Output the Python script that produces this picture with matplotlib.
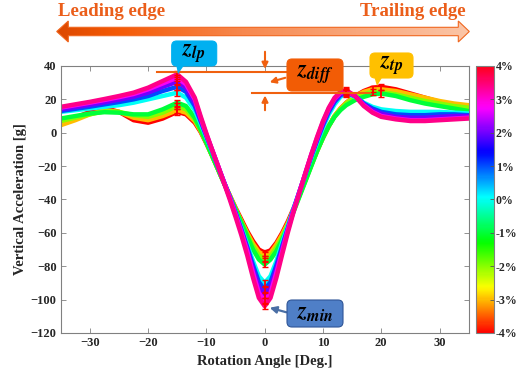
import numpy as np
import matplotlib
matplotlib.use('Agg')
import matplotlib.pyplot as plt
import matplotlib.cm as cm
from matplotlib.patches import Polygon, FancyBboxPatch
from matplotlib.colors import LinearSegmentedColormap, Normalize

plt.rcParams['font.family'] = 'Liberation Serif'
plt.rcParams['font.weight'] = 'bold'
plt.rcParams['mathtext.fontset'] = 'stix'

# rotation angle samples [deg]
angle = [-35, -32.5, -30, -27.5, -25, -22.5, -20, -17.5,
         -15, -13.5, -12, -11, -10, -9, -8, -7, -6, -5, -4, -3, -2, -1, 0,
         1, 2, 3, 4, 5, 6, 7, 8, 9, 10, 11, 12, 13, 14,
         15.5, 17, 18.5, 20,
         22.5, 25, 27.5, 30, 32.5, 35]

# strain level of each curve [%]
levels = [-4, -3, -2, -1, 0, 1, 2, 2.8, 3.4]

# vertical acceleration [g], one list per level
acc_m4 = [6, 9, 12.5, 14.8, 12.5, 7.5, 6, 8.5,
          12.5, 11, 6, 0.5, -6.5, -14, -22, -30, -37.5, -45, -52, -59, -65, -70, -72,
          -70.5, -66, -60, -53, -45, -36.5, -28, -19, -10.5, -3, 4, 10, 14.5, 18,
          22, 25, 27, 27.5,
          26, 23.5, 21, 18.5, 16.5, 14.5]
acc_m3 = [4.5, 7.5, 11, 13.5, 12.5, 9, 7.5, 10,
          13.5, 12, 7, 1, -6, -14, -22, -30, -37.5, -45.5, -53, -60, -66.5, -71.5, -73.5,
          -72, -67, -61, -54, -46, -37, -28.5, -19.5, -11, -3, 4, 10, 14.5, 18,
          22, 24.5, 26, 26,
          25, 23, 21, 19, 17.5, 16.5]
acc_m2 = [7, 9, 11, 12.8, 12.5, 10.5, 9.5, 12,
          16, 14, 8, 1.5, -6, -14, -22, -30, -38, -46, -53.5, -61, -68, -73.5, -76,
          -74, -69, -62.5, -55, -46.5, -37.5, -28.5, -19.5, -11, -3, 4, 10, 14, 17.5,
          21, 23, 24.5, 24.5,
          23, 21, 19, 17.5, 16, 15]
acc_m1 = [8.5, 10, 11.5, 12.3, 12, 11, 11, 14,
          18, 16, 9, 2, -6, -14, -22, -30, -38, -46, -54, -62, -70, -76, -79,
          -76, -71, -64, -56, -47, -38, -29, -20, -11, -3, 4, 9.5, 13.5, 16.5,
          19.5, 21.5, 23, 23.5,
          22, 19.5, 17.5, 16, 14.5, 13]
acc_0 = [12.5, 13.5, 14.5, 15.5, 16.5, 18, 20, 22,
         24, 21, 13.5, 5.5, -3, -11.5, -20.5, -29.5, -38.5, -47.5, -57, -67, -77, -86, -90,
         -86, -77, -66, -55.5, -45, -35, -25, -15, -6, 3, 11, 17, 21.5, 23.5,
         21.5, 18, 15.5, 14,
         13, 12.5, 12.5, 12.5, 12, 11.5]
acc_p1 = [13, 14.3, 15.6, 17, 18.4, 20, 22, 25,
          27.5, 24.5, 16, 7, -2, -11, -20.5, -29.5, -38.5, -48, -58, -68.5, -79.5, -89.5, -94,
          -89.5, -79.5, -68, -57, -45.5, -35, -24.5, -14, -4.5, 4.5, 12.5, 18.5, 22.5, 24,
          22, 17.5, 14.5, 12.5,
          11, 10.5, 10.5, 11, 11, 10.5]
acc_p2 = [14, 15.3, 16.7, 18.2, 19.8, 21.5, 24, 27.5,
          30.5, 27, 18, 8, -1.5, -10.5, -20, -29.5, -38.5, -48.5, -59, -70, -82, -92.5, -97,
          -92.5, -82, -69.5, -57.5, -46, -35, -24.5, -13.5, -4, 5.5, 13.5, 19.5, 23, 24.5,
          22, 17, 13.5, 11.5,
          9.5, 9, 9, 9.5, 10, 10]
acc_p3 = [15, 16.5, 18, 19.6, 21.3, 23.2, 26, 29.5,
          33, 29, 20, 9, -1, -10.5, -20, -29.5, -39, -49, -59.5, -71, -84, -96, -101,
          -96, -84, -71, -58, -46, -35, -24, -13, -3, 6.5, 14.5, 20.5, 24, 25,
          22, 16.5, 12.5, 10,
          8.5, 7.5, 7.5, 8, 8.5, 9]
acc_p4 = [15.5, 17, 18.5, 20.2, 22, 24, 27, 31,
          35, 30.5, 21, 10, -0.5, -10.5, -20, -30, -40, -50.5, -61.5, -73.5, -87, -99, -104,
          -99, -87, -73, -59.5, -47, -35.5, -24, -13, -2.5, 7, 15, 21, 24.5, 25.5,
          22, 16, 12, 9.5,
          8, 7, 7, 7.5, 8, 8.5]
curves = [acc_m4, acc_m3, acc_m2, acc_m1, acc_0, acc_p1, acc_p2, acc_p3, acc_p4]

cbar_ticks = [-4, -3, -2, -1, 0, 1, 2, 3, 4]

cmap = plt.get_cmap('hsv')
norm = Normalize(-4, 4)
orange = '#F0600F'

fig = plt.figure(figsize=(5.19, 3.77), dpi=100)
ax = fig.add_axes([0.117, 0.117, 0.786, 0.708])

x = np.array(angle)
for lvl, ys in zip(levels, curves):
    ax.plot(x, ys, color=cmap(norm(lvl)), lw=3.2, solid_joinstyle='round')

# error markers at leading peak, minimum and trailing peak
i_lp = angle.index(-15)
i_min = angle.index(0)
for ys in curves:
    ys = np.array(ys)
    i_tp = np.where(x >= 12)[0][np.argmax(ys[x >= 12])]
    for i in (i_lp, i_min, i_tp):
        ax.errorbar(x[i], ys[i], yerr=1.8, fmt='none', ecolor='red',
                    elinewidth=1.3, capsize=2.5, capthick=1, zorder=5)

ax.set_xlim(-35, 35)
ax.set_ylim(-120, 40)
ax.set_xticks(range(-30, 31, 10))
ax.set_yticks(range(-120, 41, 20))
ax.tick_params(direction='in', top=True, right=True, length=3.5, width=0.6,
               color='#808080', labelsize=9, pad=3, labelcolor='#262626')
for s in ax.spines.values():
    s.set_color('#808080')
    s.set_linewidth(0.8)
ax.set_xlabel('Rotation Angle [Deg.]', fontsize=10.5, fontweight='bold',
              labelpad=4, color='#262626')
ax.set_ylabel('Vertical Acceleration [g]', fontsize=10.5, fontweight='bold',
              labelpad=3, color='#262626')

# colorbar
cax = fig.add_axes([0.918, 0.117, 0.033, 0.708])
sm = cm.ScalarMappable(norm=norm, cmap=cmap)
cb = fig.colorbar(sm, cax=cax, ticks=cbar_ticks)
cb.ax.set_yticklabels([f'{t}%' for t in cbar_ticks])
cb.ax.tick_params(direction='in', length=3, width=0.6, color='#555555',
                  labelsize=8.6, pad=1.5, labelcolor='#262626')
cb.outline.set_edgecolor('#808080')
cb.outline.set_linewidth(0.8)

# overlay in pixel coordinates for the annotations
ov = fig.add_axes([0, 0, 1, 1], zorder=10)
ov.patch.set_alpha(0)

verts = [(56.7, 31.5), (68.3, 21), (68.3, 27.3), (458.3, 27.3), (458.3, 21),
         (469.3, 31.5), (458.3, 42), (458.3, 35.7), (68.3, 35.7), (68.3, 42)]
arrow_cmap = LinearSegmentedColormap.from_list(
    'edge', [(0, '#DC4800'), (0.15, '#F55A05'), (0.45, '#F7884E'), (1, '#FBC6A8')])
grad = np.linspace(0, 1, 256).reshape(1, -1)
im = ov.imshow(grad, extent=[56, 470, 43, 20], cmap=arrow_cmap, aspect='auto', zorder=1)
poly = Polygon(verts, closed=True, fc='none', ec='#F0661E', lw=0.8, zorder=2)
ov.add_patch(poly)
im.set_clip_path(poly)

ov.text(58, 16.5, 'Leading edge', color='#EB5E1A', fontsize=13.5, fontweight='bold',
        ha='left', va='baseline')
ov.text(466, 16.5, 'Trailing edge', color='#EB5E1A', fontsize=13.5, fontweight='bold',
        ha='right', va='baseline')


def callout(x0, y0, x1, y1, fc, label, ec=None):
    ov.add_patch(FancyBboxPatch((x0, y0), x1 - x0, y1 - y0,
                                boxstyle='round,pad=0,rounding_size=5',
                                fc=fc, ec=ec or fc, lw=0.8, zorder=4))
    ov.text((x0 + x1) / 2, (y0 + y1) / 2, label, fontsize=16.5, ha='center',
            va='center', color='black', zorder=5)


# dimension lines for z_diff
ov.plot([157, 290], [71.7, 71.7], color=orange, lw=1.5, zorder=3)
ov.plot([252, 370], [92.7, 92.7], color=orange, lw=1.5, zorder=3)
ov.annotate('', xy=(265, 71.7), xytext=(265, 49),
            arrowprops=dict(arrowstyle='-|>', color=orange, lw=1.5, mutation_scale=9))
ov.annotate('', xy=(265, 92.7), xytext=(265, 113),
            arrowprops=dict(arrowstyle='-|>', color=orange, lw=1.5, mutation_scale=9))
ov.annotate('', xy=(267, 83), xytext=(288, 77),
            arrowprops=dict(arrowstyle='-|>', color=orange, lw=1.5, mutation_scale=9))

# z_lp callout
ov.add_patch(Polygon([(176, 64), (185, 64), (178, 74)], fc='#00B0F0', ec='none', zorder=4))
callout(171.7, 41, 216.7, 66, '#00B0F0', r'$z_{lp}$')
# z_diff
callout(287, 59, 343, 91, '#F25C05', r'$z_{diff}$')
# z_tp
ov.add_patch(Polygon([(374, 76), (383, 76), (377, 86)], fc='#FFC000', ec='none', zorder=4))
callout(370, 53, 413, 78, '#FFC000', r'$z_{tp}$')
# z_min
ov.annotate('', xy=(267, 307), xytext=(289, 313),
            arrowprops=dict(arrowstyle='-|>', color='#4A6FA5', lw=1.6, mutation_scale=10),
            zorder=3)
callout(287, 300, 343, 327, '#4F7FC7', r'$z_{min}$', ec='#2F5597')

ov.set_xlim(0, 519)
ov.set_ylim(377, 0)
ov.axis('off')

fig.savefig('out.png', dpi=100)
